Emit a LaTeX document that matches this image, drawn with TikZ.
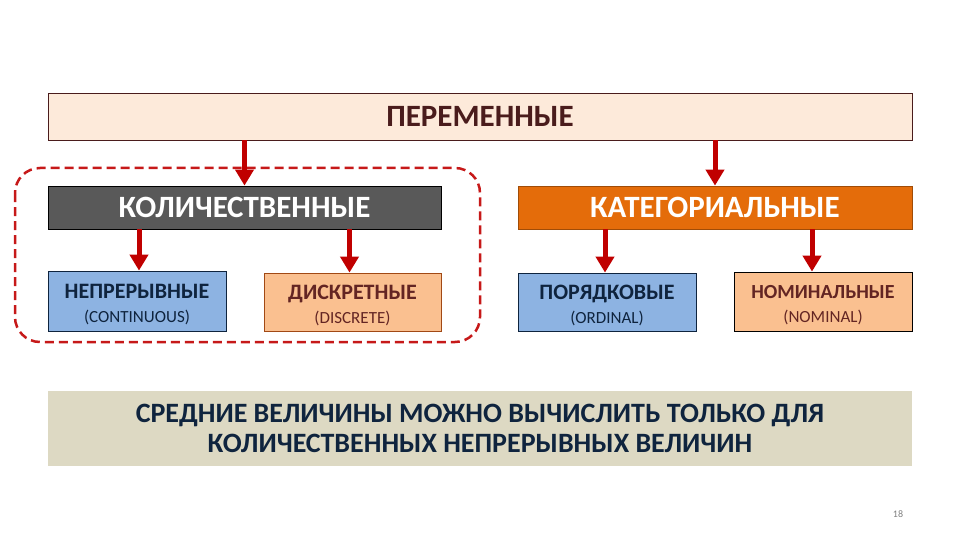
\documentclass[tikz,border=0pt]{standalone}
\usepackage{fontspec}
\setmainfont{Carlito}
\usepackage{tikz}
\usetikzlibrary{arrows.meta,positioning}
\definecolor{topfill}{HTML}{FDEADA}
\definecolor{toptext}{HTML}{4A1C1C}
\definecolor{kolfill}{HTML}{595959}
\definecolor{katfill}{HTML}{E46C0A}
\definecolor{bluefill}{HTML}{8DB3E2}
\definecolor{bluetext}{HTML}{0F243E}
\definecolor{peachfill}{HTML}{FAC090}
\definecolor{peachtext}{HTML}{632523}
\definecolor{notefill}{HTML}{DDD9C3}
\definecolor{arrred}{HTML}{C00000}

\begin{document}
\begin{tikzpicture}[x=1pt, y=-1pt, >={Triangle[width=18pt,length=16pt]},
  box/.style={draw,inner sep=0pt,align=center,line width=0.8pt},
  head/.style={box,minimum height=43pt,text=white,font=\fontsize{31}{34}\selectfont\bfseries},
  leaf/.style={box,minimum width=178pt,minimum height=58pt,text height=46pt,text depth=4pt,font=\fontsize{17}{24}\selectfont},
  arr/.style={->,draw=arrred,line width=5pt}]
\useasboundingbox (0,0) rectangle (960,540);
\node[box,fill=topfill,draw=toptext,text=toptext,minimum width=864pt,minimum height=47pt,font=\fontsize{31}{34}\selectfont\bfseries] (var) at (480,116.5) {ПЕРЕМЕННЫЕ};
\node[head,fill=kolfill,draw=black,minimum width=393pt] (kol) at (244.5,207.5) {КОЛИЧЕСТВЕННЫЕ};
\node[head,fill=katfill,draw=katfill!70!black,minimum width=394pt] (kat) at (715,207.5) {КАТЕГОРИАЛЬНЫЕ};
\node[leaf,fill=bluefill,draw=bluetext,text=bluetext,minimum height=60pt] (nep) at (137,301) {{\fontsize{22}{24}\selectfont\bfseries НЕПРЕРЫВНЫЕ}\\(CONTINUOUS)};
\node[leaf,fill=peachfill,draw=peachtext!60!orange,text=peachtext,minimum width=177pt] (dis) at (352.5,302) {{\fontsize{22}{24}\selectfont\bfseries ДИСКРЕТНЫЕ}\\(DISCRETE)};
\node[leaf,fill=bluefill,draw=bluetext,text=bluetext] (por) at (607,302) {{\fontsize{22}{24}\selectfont\bfseries ПОРЯДКОВЫЕ}\\(ORDINAL)};
\node[leaf,fill=peachfill,draw=black,text=peachtext,minimum height=59pt] (nom) at (823,301.5) {{\fontsize{20}{24}\selectfont\bfseries НОМИНАЛЬНЫЕ}\\(NOMINAL)};
\node[inner sep=0pt,fill=notefill,text=bluetext,align=center,minimum width=864pt,minimum height=75pt,font=\fontsize{28}{30}\selectfont\bfseries] (note) at (480,428.5) {СРЕДНИЕ ВЕЛИЧИНЫ МОЖНО ВЫЧИСЛИТЬ ТОЛЬКО ДЛЯ\\КОЛИЧЕСТВЕННЫХ НЕПРЕРЫВНЫХ ВЕЛИЧИН};
\node[text=gray,font=\fontsize{10}{12}\selectfont] (page) at (898,514) {18};
% quantitative group
\draw[arrred!90,dashed,dash pattern=on 9pt off 5pt,line width=2.5pt,rounded corners=25pt] (15,168) rectangle (480,342);
\draw[arr] (var.south -| kol) -- (kol);
\draw[arr] (var.south -| kat) -- (kat);
\draw[arr] ([xshift=2pt]kol.south -| nep) -- ([xshift=2pt]nep.north);
\draw[arr] ([xshift=-3pt]kol.south -| dis) -- ([xshift=-3pt]dis.north);
\draw[arr] ([xshift=-2pt]kat.south -| por) -- ([xshift=-2pt]por.north);
\draw[arr] ([xshift=-11pt]kat.south -| nom) -- ([xshift=-11pt]nom.north);
\end{tikzpicture}
\end{document}
